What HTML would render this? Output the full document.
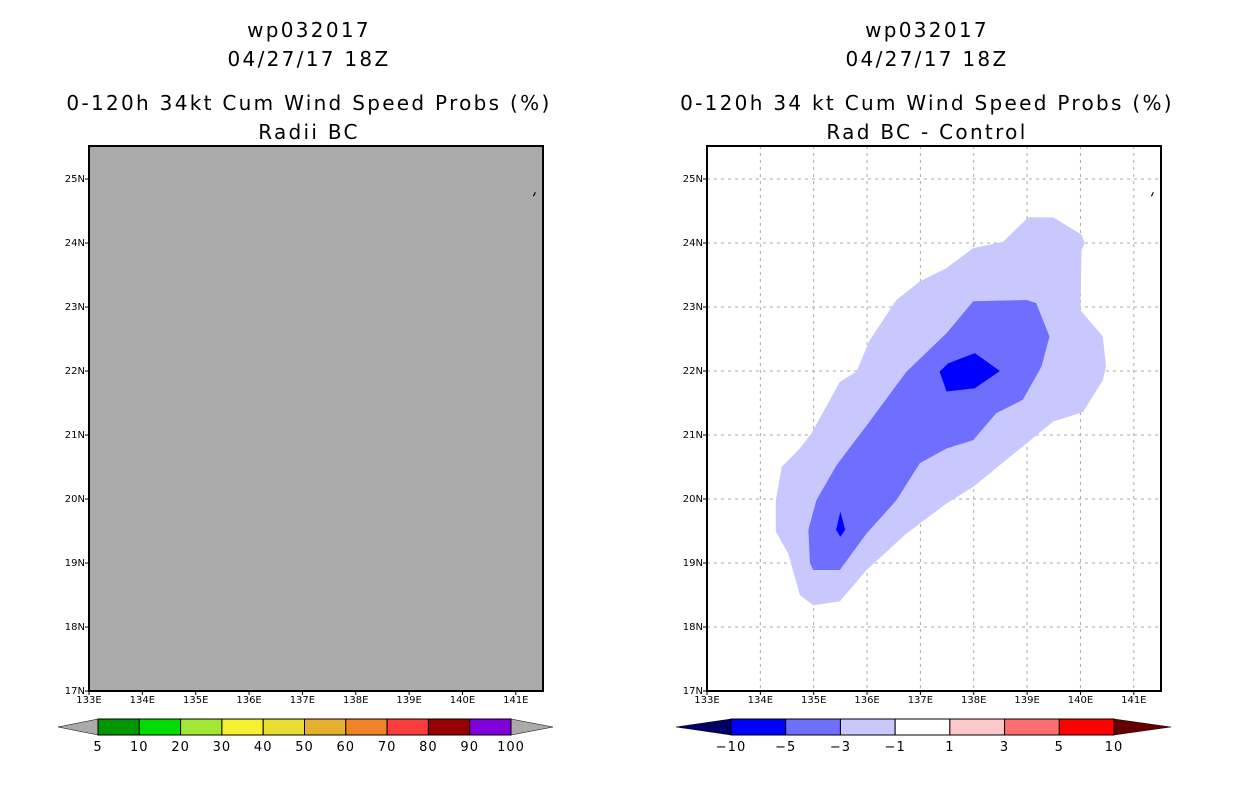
<!DOCTYPE html>
<html><head><meta charset="utf-8"><style>
body{margin:0;background:#fff;}
text{font-family:"DejaVu Sans","Liberation Sans",sans-serif;}
</style></head><body>
<svg id="svg" width="1236" height="800" xmlns="http://www.w3.org/2000/svg"></svg>
<script>
const lonTicks=[133,134,135,136,137,138,139,140,141];
const latTicks=[17,18,19,20,21,22,23,24,25];
const leftLevels=["5","10","20","30","40","50","60","70","80","90","100"];
const leftColors=["#009600","#00dc00","#a0e632","#f5f032","#e6dc32","#e6af2d","#f08228","#fa3c3c","#960000","#8200dc"];
const rightLevels=["-10","-5","-3","-1","1","3","5","10"];
const rightColors=["#0000ff","#6e6eff","#c8c8ff","#ffffff","#ffc8c8","#ff6e6e","#ff0000"];
const outerLon=[139.02,139.49,140.02,140.08,140.02,140.00,140.42,140.48,140.42,140.05,139.49,138.99,137.99,137.49,136.74,135.99,135.49,134.99,134.74,134.52,134.29,134.29,134.40,134.74,134.96,135.49,135.80,136.05,136.55,136.99,137.49,137.99,138.55];
const outerLat=[24.40,24.40,24.13,24.00,23.89,22.95,22.54,22.07,21.86,21.36,21.21,20.87,20.19,19.93,19.46,18.89,18.40,18.34,18.50,19.15,19.49,19.98,20.50,20.79,21.03,21.83,21.99,22.48,23.11,23.40,23.61,23.92,24.02];
const midLon=[137.99,138.99,139.17,139.42,139.27,138.92,138.42,137.99,137.49,136.99,136.55,135.99,135.49,134.99,134.93,134.90,135.05,135.43,136.02,136.74,137.49];
const midLat=[23.09,23.11,23.06,22.54,22.07,21.55,21.34,20.92,20.79,20.56,19.98,19.46,18.89,18.89,19.00,19.52,19.98,20.53,21.18,21.99,22.59];
const core1Lon=[137.36,137.52,138.02,138.49,138.02,137.49];
const core1Lat=[21.99,22.12,22.28,22.00,21.73,21.68];
const core2Lon=[135.50,135.59,135.50,135.42];
const core2Lat=[19.80,19.52,19.41,19.52];

const NS="http://www.w3.org/2000/svg";
const svg=document.getElementById('svg');
function mk(tag,attrs,parent){const e=document.createElementNS(NS,tag);for(const k in attrs)e.setAttribute(k,attrs[k]);(parent||svg).appendChild(e);return e;}
function txt(x,y,s,size,anchor,name,ls){const t=mk('text',{x:x,y:y,'font-size':size,'text-anchor':anchor||'middle',fill:'#000'});t.textContent=s;
if(ls)t.setAttribute('letter-spacing',ls);


return t;}

function panel(x0,title2,title3,right){
  const W=454,H=545,y0=146;
  const xs=lon=>x0+(lon-133)*53.35;
  const ys=lat=>691-(lat-17)*64;
  const cx=x0+220;
  txt(cx,37,"wp032017",20,'middle','title-storm',2.3);
  txt(cx,66,"04/27/17 18Z",20,'middle','title-date',2.3);
  txt(cx,110,title2,20,'middle','title-product',2.3);
  txt(cx,139,title3,20,'middle','title-subtitle',2.3);
  const bg=mk('rect',{x:x0,y:y0,width:W,height:H,fill:right?'#fff':'#aaaaaa'});
  
  
  if(right){
    lonTicks.slice(1).forEach(l=>{const g=mk('line',{x1:xs(l),x2:xs(l),y1:y0,y2:y0+H,stroke:'#aaa','stroke-dasharray':'3,4'});
      
      });
    latTicks.slice(1).forEach(l=>{const g=mk('line',{x1:x0,x2:x0+W,y1:ys(l),y2:ys(l),stroke:'#aaa','stroke-dasharray':'3,4'});
      
      });
    const poly=(lo,la,col,name)=>{const p=mk('polygon',{points:lo.map((v,i)=>xs(v)+','+ys(la[i])).join(' '),fill:col});
      
      };
    poly(outerLon,outerLat,'#c8c8ff','contour-minus1');
    poly(midLon,midLat,'#6e6eff','contour-minus3');
    poly(core1Lon,core1Lat,'#0000ff','contour-minus5-north');
    poly(core2Lon,core2Lat,'#0000ff','contour-minus5-south');
  }
  const isl=mk('path',{d:`M${xs(141.33)},${ys(24.73)} l2,-4`,stroke:'#000','stroke-width':1.2});
  
  
  const fr=mk('rect',{x:x0,y:y0,width:W,height:H,fill:'none',stroke:'#000','stroke-width':2});
  
  
  lonTicks.forEach(l=>{mk('line',{x1:xs(l),x2:xs(l),y1:691,y2:695,stroke:'#000'});
    txt(xs(l),703,l+"E",10,'middle','x-tick-label');});
  latTicks.forEach(l=>{mk('line',{x1:x0-4,x2:x0,y1:ys(l),y2:ys(l),stroke:'#000'});
    txt(x0-4,ys(l)+3,l+"N",10,'end','y-tick-label');});
}
panel(89,"0-120h 34kt Cum Wind Speed Probs (%)","Radii BC",false);
panel(707,"0-120h 34 kt Cum Wind Speed Probs (%)","Rad BC - Control",true);

function colorbar(xa,xb,tl,tr,colors,labels,endL,endR,name){
  const y1=719,y2=735,w=(xb-xa)/colors.length;
  mk('polygon',{points:`${xa},${y1} ${xa},${y2} ${tl},${(y1+y2)/2}`,fill:endL,stroke:'#000','stroke-width':0.5});
  mk('polygon',{points:`${xb},${y1} ${xb},${y2} ${tr},${(y1+y2)/2}`,fill:endR,stroke:'#000','stroke-width':0.5});
  colors.forEach((c,i)=>{const r=mk('rect',{x:xa+i*w,y:y1,width:w,height:y2-y1,fill:c,stroke:'#000','stroke-width':1});
    
    });
  labels.forEach((s,i)=>txt(xa+i*w,751,s.replace('-','\u2212'),13,'middle',name+'-label',1));
}
colorbar(98,511,58,553,leftColors,leftLevels,'#aaaaaa','#aaaaaa','left-colorbar');
colorbar(731,1114,676,1171,rightColors,rightLevels,'#000064','#640000','right-colorbar');
</script>
</body></html>
